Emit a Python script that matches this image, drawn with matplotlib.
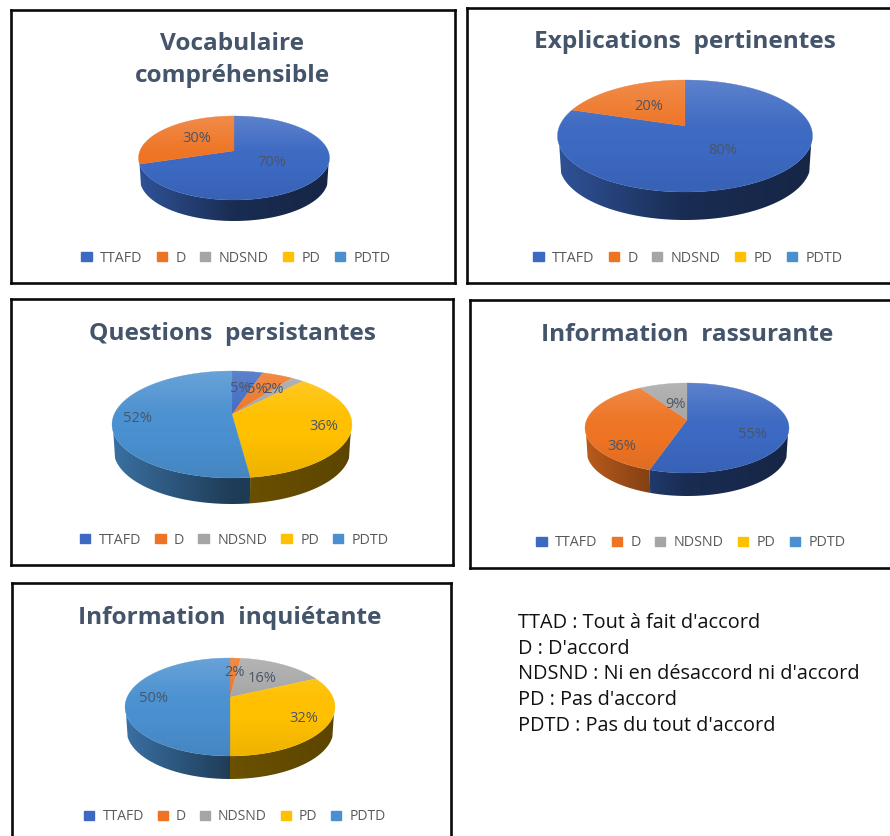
# -*- coding:utf-8 -*-
import matplotlib
matplotlib.use('Agg')
import matplotlib.pyplot as plt
import numpy as np
from matplotlib.patches import Ellipse, Patch, Polygon

W, H = 890, 836

categories = ['TTAFD', 'D', 'NDSND', 'PD', 'PDTD']
colors = ['#3c69c2', '#ee7424', '#a5a5a5', '#ffc000', '#4a90d0']

titles = ['Vocabulaire\ncompréhensible', 'Explications  pertinentes', 'Questions  persistantes',
          'Information  rassurante', 'Information  inquiétante']

vocabulaire = [70, 30, 0, 0, 0]
explications = [80, 20, 0, 0, 0]
questions = [5, 5, 2, 36, 52]
rassurante = [55, 36, 9, 0, 0]
inquietante = [0, 2, 16, 32, 50]

notes = ["TTAD : Tout à fait d'accord", "D : D'accord", "NDSND : Ni en désaccord ni d'accord",
         "PD : Pas d'accord", "PDTD : Pas du tout d'accord"]

# layout in pixels of the picture
frames = [(11, 10, 455, 283), (467, 8, 900, 283), (11, 299, 453, 565), (470, 300, 900, 568), (12, 583, 451, 850)]
# cx, cy, rx, ry, depth, apex shift
pies = [(234, 158, 95.5, 42, 21, .17), (685, 136, 127.5, 56, 28, .18), (232, 424.5, 120, 53.5, 26, .19),
        (687, 428, 102, 45, 23, .18), (230, 707, 105, 49, 23, .2)]
title_pos = [(232, 60), (685, 42), (232, 334), (687, 335), (230, 618)]
legend_pos = [(236, 258), (688, 258), (234.5, 540), (691, 543), (235, 817)]
legend_size = [10.3, 10.3, 10.3, 10.3, 10]
label_pos = [[(272, 163), (197, 139)],
             [(723, 150), (649, 106)],
             [(240, 388), (257, 390), (273, 390), (324, 426), (138, 418)],
             [(753, 434), (622, 447), (676, 405)],
             [(235, 672), (262, 678), (304, 718), (153, 698)]]

plt.rcParams['font.family'] = ['Open Sans', 'DejaVu Sans']
TITLE_COLOR = '#44546a'
LABEL_COLOR = '#4a5568'
LEGEND_COLOR = '#595959'


def tilt(theta, a):
    # circle seen in perspective, the centre of the pie moves up by a
    x, y = np.cos(theta), np.sin(theta)
    d = 1 + a * y
    return x * np.sqrt(1 - a * a) / d, (y + a) / d


def draw_side(ax, color, xs, ys, d, low):
    # bottom rim is a little narrower than the top
    top = np.c_[xs, ys]
    bottom = np.c_[xs * .985, ys - d]
    clip = Polygon(np.r_[top, bottom[::-1]], closed=True, transform=ax.transData, visible=False)
    ax.add_patch(clip)

    grad = np.linspace(-1, 1, 200)
    rgb = np.array(matplotlib.colors.to_rgb(color))
    row = rgb[None, :] * np.interp(grad, [-1, 0, 1], [.78, .42, .36])[:, None]
    im = ax.imshow(row[None, :, :], extent=(-1, 1, low, 0), aspect='auto', interpolation='bilinear', zorder=0)
    im.set_clip_path(clip)


def draw_pie(fig, values, geom):
    cx, cy, rx, ry, depth, a = geom
    ax = fig.add_axes([(cx - rx) / W, 1 - (cy + ry + depth + 1) / H, 2 * rx / W, (2 * ry + depth + 1) / H])
    low = -1 - (depth + 1) / ry
    ax.axis('off')

    fracs = np.array(values) / sum(values)
    edges = np.pi / 2 - 2 * np.pi * np.concatenate([[0], np.cumsum(fracs)])

    for v, c, t1, t2 in zip(values, colors, edges[:-1], edges[1:]):
        if v == 0:
            continue
        xs, ys = tilt(np.linspace(t1, t2, 200), a)
        near = ys < -.14
        if near.sum() > 1:
            draw_side(ax, c, xs[near], ys[near], depth / ry, low)
        # apex = image of the real centre
        ax.fill(np.r_[0, xs], np.r_[a, ys], color=c, lw=.2, clip_on=False)

    # light on the far side of the top, a bit darker on the near side
    n = 100
    pos = np.linspace(0, 1, n)
    over = np.zeros((n, 1, 4))
    over[:, 0, :3] = np.where(pos[:, None] < .55, 1., 0.)
    over[:, 0, 3] = np.interp(pos, [0, .4, .6, 1], [.17, .02, 0, .07])
    im = ax.imshow(over, extent=(-1, 1, -1, 1), aspect='auto', interpolation='bilinear', zorder=3)
    clip = Ellipse((0, 0), 2, 2, transform=ax.transData, visible=False)
    ax.add_patch(clip)
    im.set_clip_path(clip)

    ax.set_xlim(-1, 1)
    ax.set_ylim(low, 1)
    return ax


def draw_chart(fig, idx, values):
    x0, y0, x1, y1 = frames[idx]
    frame = fig.add_axes([x0 / W, 1 - y1 / H, (x1 - x0) / W, (y1 - y0) / H])
    frame.set_xticks([])
    frame.set_yticks([])
    for s in frame.spines.values():
        s.set_linewidth(1.9)
        s.set_color('#0a0a0a')

    draw_pie(fig, values, pies[idx])

    tx, ty = title_pos[idx]
    fig.text(tx / W, 1 - ty / H, titles[idx], ha='center', va='center', fontsize=17.6, fontweight='bold',
             color=TITLE_COLOR, linespacing=1.5)

    shown = [v for v in values if v > 0]
    for v, (lx, ly) in zip(shown, label_pos[idx]):
        fig.text(lx / W, 1 - ly / H, '%d%%' % v, ha='center', va='center', fontsize=10.5, color=LABEL_COLOR,
                 zorder=10)

    handles = [Patch(color=c, label=n) for c, n in zip(colors, categories)]
    lx, ly = legend_pos[idx]
    frame.legend(handles=handles, ncol=5, frameon=False, loc='center', bbox_to_anchor=(lx / W, 1 - ly / H),
                 bbox_transform=fig.transFigure, fontsize=legend_size[idx], labelcolor=LEGEND_COLOR,
                 handlelength=.72, handleheight=.62, handletextpad=.6, columnspacing=.98, borderpad=0,
                 borderaxespad=0)


fig = plt.figure(figsize=(W / 100, H / 100), dpi=100)

series = [vocabulaire, explications, questions, rassurante, inquietante]
for i, values in enumerate(series):
    draw_chart(fig, i, values)

for i, line in enumerate(notes):
    fig.text(518 / W, 1 - (623 + 25.7 * i) / H, line, ha='left', va='center', fontsize=14.3, color='#111111')

fig.savefig('out.png', dpi=100)
